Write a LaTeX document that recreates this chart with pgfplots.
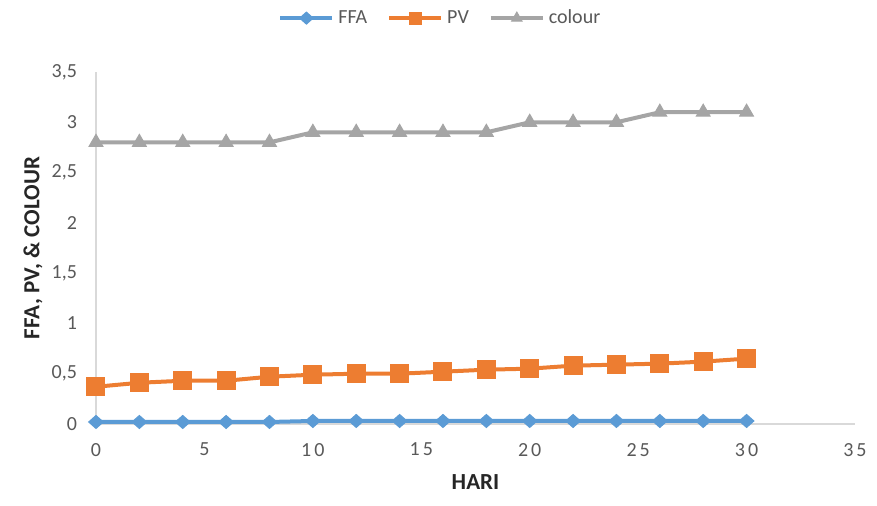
\documentclass[border=0pt]{standalone}
\usepackage{pgfplots}
\pgfplotsset{compat=1.18}
\usepackage{fontspec}
\setmainfont{Carlito}
\definecolor{cffa}{HTML}{5B9BD5}
\definecolor{cpv}{HTML}{ED7D31}
\definecolor{ccol}{HTML}{A5A5A5}
\definecolor{axgray}{HTML}{D9D9D9}
\definecolor{tickgray}{HTML}{595959}
\begin{document}
\begin{tikzpicture}
\useasboundingbox (-48pt,-41pt) rectangle (390.5pt,212pt);
\begin{axis}[
  scale only axis,
  width=379.5pt, height=176pt,
  xmin=0, xmax=35, ymin=0, ymax=3.5,
  xtick={0,5,10,15,20,25,30,35},
  xticklabels={0,5,1\kern1.5pt0,1\kern1.5pt5,2\kern1.5pt0,2\kern1.5pt5,3\kern1.5pt0,3\kern1.5pt5},
  ytick={0,0.5,1,1.5,2,2.5,3,3.5},
  /pgf/number format/use comma,
  /pgf/number format/assume math mode=true,
  axis x line*=bottom, axis y line*=left,
  axis line style={axgray, line width=0.8pt, -},
  major tick length=0pt,
  tick label style={font=\fontsize{10}{12}\selectfont, text=tickgray},
  xticklabel style={yshift=-6pt},
  yticklabel style={xshift=-6pt},
  xlabel={\textbf{HARI}},
  ylabel={\textbf{FFA, PV, \& COLOUR}},
  label style={font=\fontsize{11.5}{13}\selectfont, text=black!85},
  xlabel style={at={(0.5,0)}, anchor=center, yshift=-29pt},
  ylabel style={at={(-0.083,0.5)}, anchor=center},
  clip=false,
  legend columns=3,
  legend style={draw=none, at={(0.455,1.153)}, anchor=center,
    font=\fontsize{10}{12}\selectfont, text=tickgray,
    /tikz/every even column/.append style={column sep=8pt}},
  legend image code/.code={
    \draw[#1, mark=none] (0pt,0pt) -- (26pt,0pt);
    \draw[#1, only marks, mark size=3pt] plot coordinates {(13pt,0pt)};
  },
]
\addplot[color=cffa, line width=2pt, mark=diamond*, mark size=3.25pt, mark options={solid, fill=cffa, line width=0.5pt, xscale=1.5}]
coordinates {(0,0.02) (2,0.02) (4,0.02) (6,0.02) (8,0.02) (10,0.03) (12,0.03) (14,0.03) (16,0.03) (18,0.03) (20,0.03) (22,0.03) (24,0.03) (26,0.03) (28,0.03) (30,0.03)};
\addlegendentry{FFA}
\addplot[color=cpv, line width=2pt, mark=square*, mark size=4.5pt, mark options={solid, fill=cpv, line width=0.5pt}]
coordinates {(0,0.37) (2,0.41) (4,0.43) (6,0.43) (8,0.47) (10,0.49) (12,0.50) (14,0.50) (16,0.52) (18,0.54) (20,0.55) (22,0.58) (24,0.59) (26,0.60) (28,0.62) (30,0.65)};
\addlegendentry{PV}
\addplot[color=ccol, line width=2pt, mark=triangle*, mark size=4pt, mark options={solid, fill=ccol, line width=0.5pt}]
coordinates {(0,2.8) (2,2.8) (4,2.8) (6,2.8) (8,2.8) (10,2.9) (12,2.9) (14,2.9) (16,2.9) (18,2.9) (20,3.0) (22,3.0) (24,3.0) (26,3.1) (28,3.1) (30,3.1)};
\addlegendentry{colour}
\end{axis}
\end{tikzpicture}
\end{document}
